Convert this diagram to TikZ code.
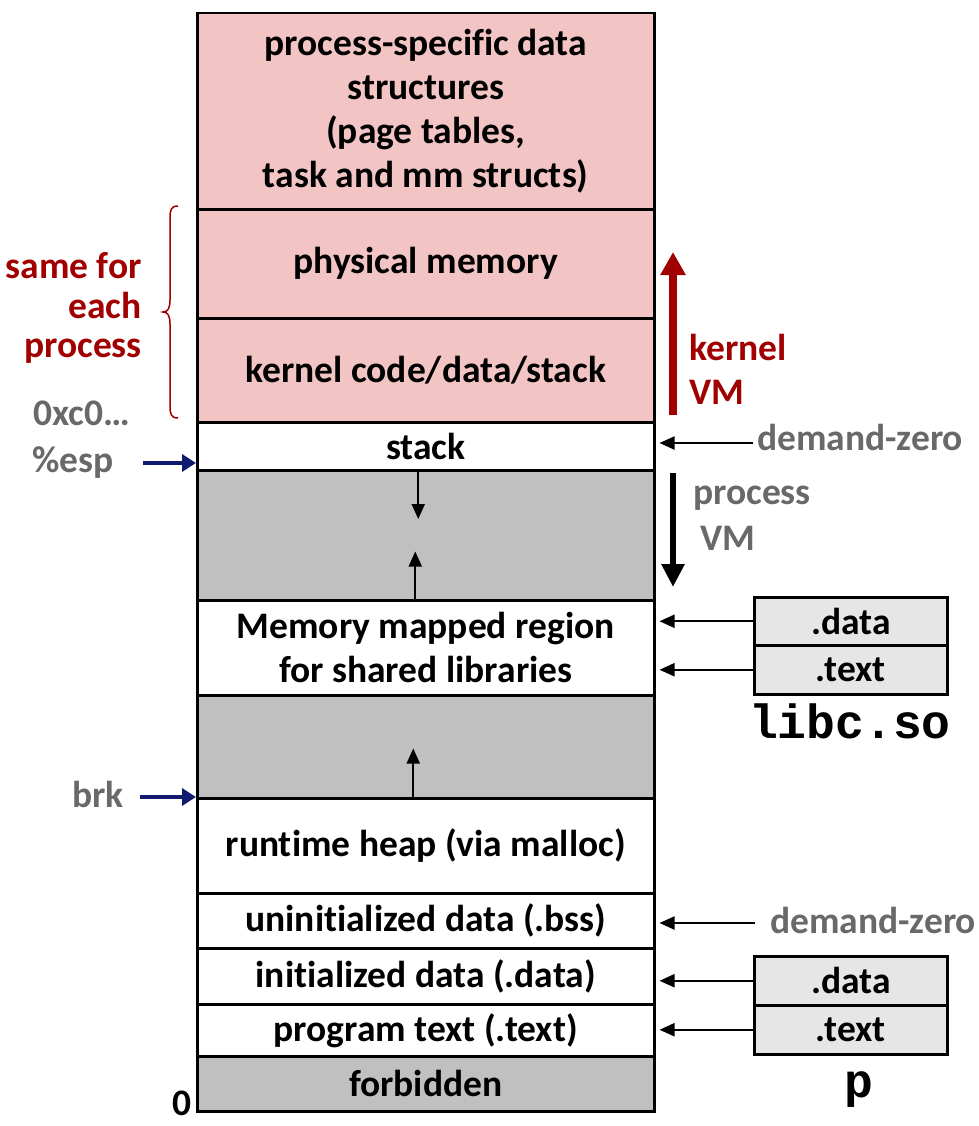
\documentclass[tikz,border=0pt]{standalone}
\usepackage{fontspec}
\setmainfont{Carlito}[Ligatures=NoCommon]
\newfontfamily\monob{Liberation Mono}
\usetikzlibrary{arrows.meta}
\definecolor{pinkfill}{RGB}{242,196,196}
\definecolor{grayfill}{RGB}{192,192,192}
\definecolor{boxfill}{RGB}{230,230,230}
\definecolor{darkred}{RGB}{160,0,0}
\definecolor{graytext}{RGB}{105,105,105}
\definecolor{navyblue}{RGB}{16,26,110}
\tikzset{
  txt/.style={font=\bfseries\fontsize{37.5}{44}\selectfont, inner sep=0pt},
  region/.style={txt, draw, line width=2.5pt, minimum width=457pt, anchor=north west, align=center},
  filebox/.style={txt, draw, line width=2.5pt, fill=boxfill, minimum width=193pt, anchor=north west},
  blackarrow/.style={line width=2pt, -{Triangle[length=15pt,width=13pt]}},
  navyarrow/.style={navyblue, line width=4.5pt, -{Triangle[length=14pt,width=17pt]}},
  graylab/.style={txt, text=graytext},
  redlab/.style={txt, text=darkred},
  monolab/.style={inner sep=0pt, font=\monob\bfseries\fontsize{48}{48}\selectfont}
}
\begin{document}
\begin{tikzpicture}[x=1pt,y=-1pt]
\useasboundingbox (0,0) rectangle (978,1126);

% memory regions
\node[region, fill=pinkfill, minimum height=196pt] (ps) at (196,12) {process-specific data\\structures\\(page tables,\\task and mm structs)};
\node[region, fill=pinkfill, minimum height=109pt] (phys) at (196,208) {physical memory};
\node[region, fill=pinkfill, minimum height=104pt] (kern) at (196,317) {kernel code/data/stack};
\node[region, fill=white, minimum height=48pt] (stack) at (196,421) {stack};
\node[region, fill=grayfill, minimum height=130pt] (gap1) at (196,469) {};
\node[region, fill=white, minimum height=95pt] (mmap) at (196,599) {Memory mapped region\\for shared libraries};
\node[region, fill=grayfill, minimum height=103pt] (gap2) at (196,694) {};
\node[region, fill=white, minimum height=95pt] (heap) at (196,797) {runtime heap (via malloc)};
\node[region, fill=white, minimum height=55pt] (bss) at (196,892) {uninitialized data (.bss)};
\node[region, fill=white, minimum height=56pt] (data) at (196,947) {initialized data (.data)};
\node[region, fill=white, minimum height=52pt] (text) at (196,1003) {program text (.text)};
\node[region, fill=grayfill, minimum height=55pt] (forb) at (196,1055) {forbidden};

% growth arrows inside gaps
\draw[blackarrow] ([xshift=-7.5pt]gap1.north) -- ++(0,50);
\draw[blackarrow] ([xshift=-10.5pt]gap1.south) -- ++(0,-50);
\draw[blackarrow] ([xshift=-12.5pt]gap2.south) -- ++(0,-51);

% zero label
\node[txt, anchor=base] (zero) at (182,1115) {0};

% left labels
\node[redlab, anchor=base east] (same1) at (142,278) {same for};
\node[redlab, anchor=base east] (same2) at (142,318) {each};
\node[redlab, anchor=base east] (same3) at (142,357) {process};
\draw[darkred, line width=1.5pt] (178,206) .. controls (171,206) and (170,210) .. (170,218) -- (170,300) .. controls (170,308) and (168,312) .. (163,312) .. controls (168,312) and (170,316) .. (170,324) -- (170,406) .. controls (170,414) and (171,418) .. (178,418);

\node[graylab, anchor=base west] (oxc) at (33,425) {0xc0…};
\node[graylab, anchor=base west] (esp) at (32,472) {\%esp};
\node[graylab, anchor=base west] (brk) at (72,807) {brk};
\coordinate (espA) at (143,463);
\coordinate (brkA) at (140,797);
\draw[navyarrow] (espA) -- (espA -| stack.west);
\draw[navyarrow] (brkA) -- (brkA -| heap.west);

% right labels
\coordinate (kvmB) at (673,415);
\coordinate (kvmT) at (673,252);
\draw[darkred, line width=8pt, -{Triangle[length=23pt,width=24pt]}] (kvmB) -- (kvmT);
\node[redlab, anchor=base west] (kvm1) at (689,360) {kernel};
\node[redlab, anchor=base west] (kvm2) at (689,404) {VM};

\coordinate (pvmT) at (673,473);
\coordinate (pvmB) at (673,587);
\draw[black, line width=6.5pt, -{Triangle[length=23pt,width=22pt]}] (pvmT) -- (pvmB);
\node[graylab, anchor=base west] (pvm1) at (693,504) {process};
\node[graylab, anchor=base west] (pvm2) at (700,550) {VM};

\node[graylab, anchor=base west] (dz1) at (757,450) {demand-zero};
\coordinate (dz1A) at (753,443);
\draw[blackarrow, shorten >=4pt] (dz1A) -- (dz1A -| stack.east);

\node[graylab, anchor=base west] (dz2) at (770,933) {demand-zero};
\coordinate (dz2A) at (755,923);
\draw[blackarrow, shorten >=4pt] (dz2A) -- (dz2A -| bss.east);

% libc.so
\node[filebox, minimum height=48pt] (ldata) at (753,596) {.data};
\node[filebox, minimum height=49pt] (ltext) at (753,644) {.text};
\node[monolab, anchor=base] (libc) at (850,738) {libc.so};
\draw[blackarrow, shorten >=4pt] (ldata.west) -- (ldata.west -| mmap.east);
\draw[blackarrow, shorten >=4pt] (ltext.west) -- (ltext.west -| mmap.east);

% p
\node[filebox, minimum height=49pt] (pdata) at (753,955) {.data};
\node[filebox, minimum height=49pt] (ptext) at (753,1004) {.text};
\node[monolab, anchor=base] (pname) at (859,1097) {p};
\draw[blackarrow, shorten >=4pt] (pdata.west) -- (pdata.west -| data.east);
\draw[blackarrow, shorten >=4pt] (ptext.west) -- (ptext.west -| text.east);
\end{tikzpicture}
\end{document}
